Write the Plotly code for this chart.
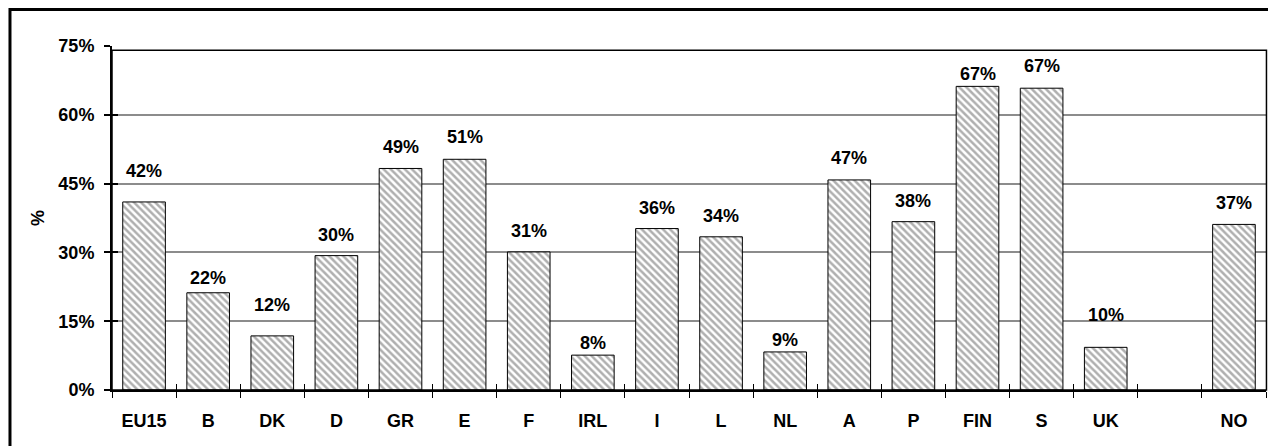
import plotly.graph_objects as go

categories = ["EU15", "B", "DK", "D", "GR", "E", "F", "IRL", "I", "L", "NL",
              "A", "P", "FIN", "S", "UK", " ", "NO"]
values = [41.0, 21.2, 11.8, 29.3, 48.3, 50.3, 30.1, 7.6, 35.2, 33.4, 8.3,
          45.8, 36.7, 66.2, 65.8, 9.3, None, 36.1]
value_labels = ["42%", "22%", "12%", "30%", "49%", "51%", "31%", "8%", "36%",
                "34%", "9%", "47%", "38%", "67%", "67%", "10%", "", "37%"]
y_ticks = [0, 15, 30, 45, 60, 75]
y_tick_labels = ["0%", "15%", "30%", "45%", "60%", "75%"]

# pixel lift of each value label above its bar top (styling)
label_lift = [31, 15, 31, 21, 21, 22, 21, 12, 21, 21, 12, 22, 21, 12, 22, 32, 0, 21]

FONT = "Liberation Sans"
fsize = 18

fig = go.Figure()
fig.add_trace(go.Bar(
    x=categories, y=values,
    marker=dict(color="white",
                line=dict(color="black", width=1),
                pattern=dict(shape="\\", size=5, solidity=0.5,
                             fgcolor="#606060", bgcolor="white")),
    width=0.665, showlegend=False, hoverinfo="skip",
))
# invisible helper trace for the inner halves of the crossing tick marks
fig.add_trace(go.Scatter(x=categories, y=values, xaxis="x2", yaxis="y2",
                         mode="markers", marker=dict(size=1, opacity=0),
                         showlegend=False, hoverinfo="skip"))

for c, v, t, s in zip(categories, values, value_labels, label_lift):
    if v is None:
        continue
    fig.add_annotation(x=c, y=v, text="<b>%s</b>" % t, showarrow=False,
                       yanchor="middle", yshift=s,
                       font=dict(family=FONT, size=fsize, color="black"))

fig.update_layout(
    width=1268, height=438,
    margin=dict(l=104, r=10, t=38, b=56, autoexpand=False),
    paper_bgcolor="white", plot_bgcolor="white",
    font=dict(family=FONT, size=fsize, color="black"),
    xaxis=dict(type="category", categoryorder="array", categoryarray=categories,
               range=[-0.5, len(categories) - 0.5], automargin=False,
               tickmode="array", tickvals=categories,
               ticktext=["<b>%s</b>" % c for c in categories],
               showline=True, linecolor="black", linewidth=1.5,
               ticks="outside", ticklen=6, tickwidth=1, tickcolor="black",
               tickson="boundaries", showgrid=False,
               tickfont=dict(family=FONT, size=fsize, color="black"),
               ticklabelstandoff=14),
    yaxis=dict(range=[0, 75], tickvals=y_ticks, automargin=False,
               ticktext=["<b>%s</b>" % t for t in y_tick_labels],
               showline=True, linecolor="black", linewidth=2,
               ticks="outside", ticklen=6, tickwidth=2, tickcolor="black",
               showgrid=True, gridcolor="#8c8c8c", gridwidth=2,
               zeroline=False,
               tickfont=dict(family=FONT, size=fsize, color="black"),
               ticklabelstandoff=6,
               title=dict(text="<b>%</b>", standoff=9,
                          font=dict(family=FONT, size=fsize, color="black"))),
    xaxis2=dict(type="category", categoryorder="array", categoryarray=categories,
                range=[-0.5, len(categories) - 0.5], overlaying="x",
                anchor="y2", side="bottom", automargin=False,
                tickmode="array", tickvals=categories, ticktext=categories,
                ticks="inside", ticklen=6, tickwidth=1, tickcolor="black",
                tickson="boundaries", showticklabels=False, showgrid=False,
                showline=False, zeroline=False),
    yaxis2=dict(range=[0, 75], tickvals=y_ticks, overlaying="y", side="left",
                anchor="x2", automargin=False,
                ticks="inside", ticklen=6, tickwidth=2, tickcolor="black",
                showticklabels=False, showgrid=False, showline=False,
                zeroline=False),
)

# plot-area frame (top and right edges) and outer chart frame
fig.add_shape(type="rect", xref="paper", yref="paper", x0=0, x1=1.0004,
              y0=0, y1=0.9875, line=dict(color="black", width=1.5),
              fillcolor="rgba(0,0,0,0)", layer="above")
fig.add_shape(type="rect", xref="paper", yref="paper", x0=-0.0884, x1=1.3,
              y0=-0.5, y1=1.106, line=dict(color="black", width=3),
              fillcolor="rgba(0,0,0,0)", layer="above")

fig.write_html("out.html")
